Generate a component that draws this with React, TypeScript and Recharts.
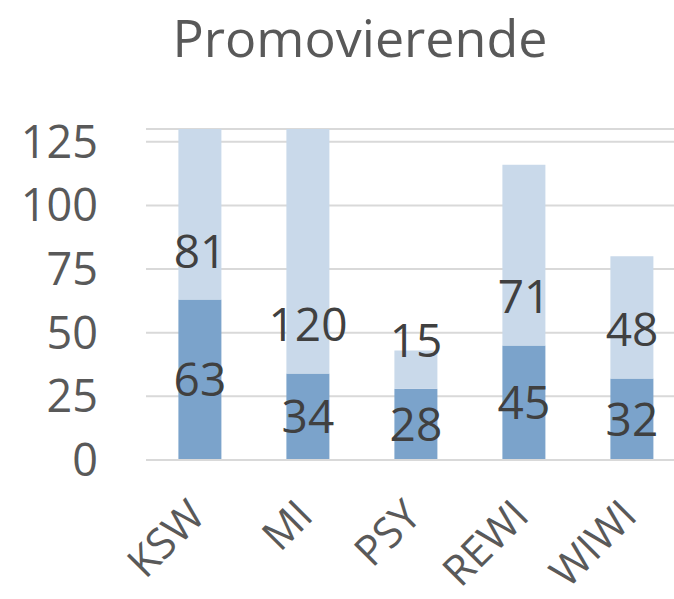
import { ComposedChart, Bar, Line, XAxis, YAxis, CartesianGrid, LabelList } from "recharts";

const faculties = ["KSW", "MI", "PSY", "REWI", "WIWI"];
const promoviert = [63, 34, 28, 45, 32];
const promovierende = [81, 120, 15, 71, 48];
// where Excel left the upper labels (in axis units)
const promovierendeLabelAt = [82, 53, 47, 64, 51];
const yTicks = [0, 25, 50, 75, 100, 125];

const data = faculties.map((name, i) => ({
  name,
  promoviert: promoviert[i],
  promovierende: promovierende[i],
  labelAt: promovierendeLabelAt[i],
}));

const FONT = "'Open Sans', sans-serif";

const XTick = ({ x, y, payload }: { x?: number; y?: number; payload?: { value: string } }) => (
  <g transform={`translate(${x},${(y ?? 0) + 51})`}>
    <text
      transform="rotate(-45)"
      textAnchor="end"
      dy={10}
      fill="#595959"
      fontSize={42}
      fontFamily={FONT}
    >
      {payload?.value}
    </text>
  </g>
);

export default function App() {
  return (
    <div style={{ position: "absolute", left: 0, top: 0, width: 674, height: 599, overflow: "hidden", background: "#fff" }}>
      <svg width={674} height={80} style={{ position: "absolute", left: 0, top: 0 }}>
        <text x={360} y={57} textAnchor="middle" fill="#595959" fontSize={52} fontFamily={FONT}>
          Promovierende
        </text>
      </svg>
      <div style={{ position: "absolute", left: 0, top: 0 }}>
        <ComposedChart
          width={700}
          height={599}
          data={data}
          margin={{ top: 129, right: 14, bottom: 0, left: 0 }}
          barCategoryGap="30%"
        >
          <CartesianGrid vertical={false} stroke="#d9d9d9" strokeWidth={2} />
          <XAxis
            dataKey="name"
            height={139}
            axisLine={{ stroke: "#d9d9d9", strokeWidth: 2 }}
            tickLine={false}
            tickSize={0}
            tickMargin={0}
            tick={<XTick />}
            interval={0}
          />
          <YAxis
            width={146}
            domain={[0, 130]}
            ticks={yTicks}
            allowDataOverflow
            axisLine={false}
            tickLine={false}
            tickSize={0}
            tickMargin={48}
            tick={{ fill: "#595959", fontSize: 45, fontFamily: FONT }}
          />
          <Bar dataKey="promoviert" stackId="a" fill="#7ba3cb" isAnimationActive={false}>
            <LabelList dataKey="promoviert" position="center" fill="#404040" fontSize={46} fontFamily={FONT} />
          </Bar>
          <Bar dataKey="promovierende" stackId="a" fill="#c9d9ea" isAnimationActive={false} />
          <Line
            dataKey="labelAt"
            stroke="none"
            dot={false}
            activeDot={false}
            isAnimationActive={false}
          >
            <LabelList dataKey="promovierende" position="center" fill="#404040" fontSize={46} fontFamily={FONT} />
          </Line>
        </ComposedChart>
      </div>
    </div>
  );
}
